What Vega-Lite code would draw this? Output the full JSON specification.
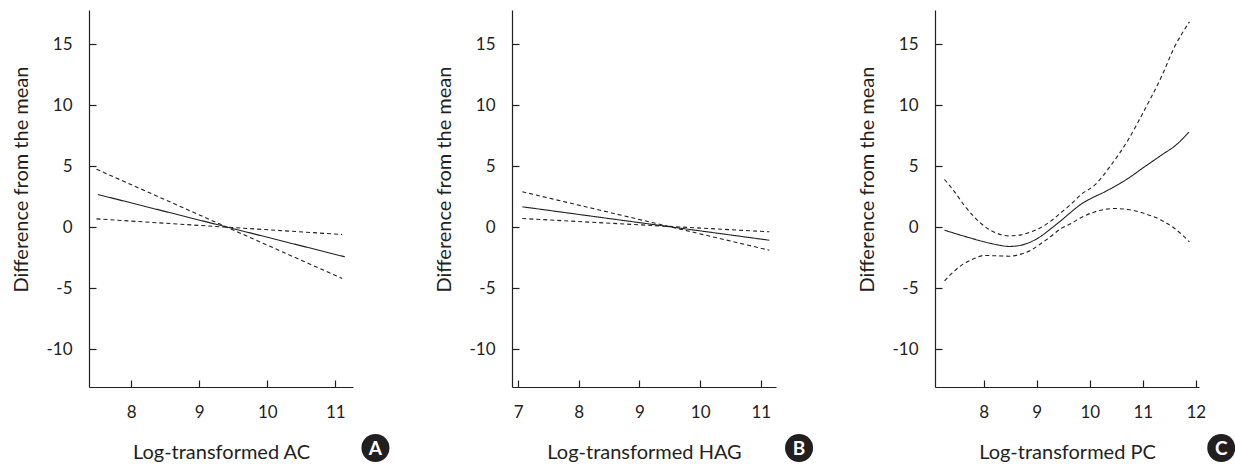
{
  "$schema": "https://vega.github.io/schema/vega-lite/v6.json",
  "padding": {"left": 11, "top": 10, "right": 0, "bottom": 0},
  "bounds": "flush",
  "spacing": 159,
  "config": {
    "view": {"stroke": null},
    "axis": {
      "grid": false,
      "domainColor": "#231f20",
      "domainWidth": 1.2,
      "tickColor": "#231f20",
      "tickWidth": 1.2,
      "tickSize": -7,
      "labelFont": "Lato",
      "labelFontSize": 17,
      "labelColor": "#231f20",
      "labelFlush": false,
      "labelOverlap": false,
      "labelExpr": "datum.value < 0 ? '-' + abs(datum.value) : '' + datum.value",
      "titleFont": "Lato",
      "titleFontSize": 20,
      "titleFontWeight": "normal",
      "titleColor": "#231f20"
    },
    "axisX": {"labelPadding": 24, "titlePadding": 22},
    "axisY": {"labelPadding": 24, "titlePadding": 14, "titleY": 169}
  },
  "datasets": {
    "curves": [
      {"panel": "A", "series": "fit", "x": 7.51, "y": 2.68},
      {"panel": "A", "series": "fit", "x": 11.14, "y": -2.43},
      {"panel": "A", "series": "upper", "x": 7.49, "y": 4.75},
      {"panel": "A", "series": "upper", "x": 11.1, "y": -4.2},
      {"panel": "A", "series": "lower", "x": 7.49, "y": 0.68},
      {"panel": "A", "series": "lower", "x": 11.1, "y": -0.6},
      {"panel": "B", "series": "fit", "x": 7.07, "y": 1.67},
      {"panel": "B", "series": "fit", "x": 11.14, "y": -1.07},
      {"panel": "B", "series": "upper", "x": 7.07, "y": 2.9},
      {"panel": "B", "series": "upper", "x": 11.14, "y": -1.89},
      {"panel": "B", "series": "lower", "x": 7.07, "y": 0.71},
      {"panel": "B", "series": "lower", "x": 11.14, "y": -0.38},
      {"panel": "C", "series": "fit", "x": 7.26, "y": -0.25},
      {"panel": "C", "series": "fit", "x": 7.63, "y": -0.74},
      {"panel": "C", "series": "fit", "x": 8.01, "y": -1.2},
      {"panel": "C", "series": "fit", "x": 8.26, "y": -1.45},
      {"panel": "C", "series": "fit", "x": 8.48, "y": -1.58},
      {"panel": "C", "series": "fit", "x": 8.7, "y": -1.48},
      {"panel": "C", "series": "fit", "x": 8.89, "y": -1.2},
      {"panel": "C", "series": "fit", "x": 9.08, "y": -0.74},
      {"panel": "C", "series": "fit", "x": 9.27, "y": -0.11},
      {"panel": "C", "series": "fit", "x": 9.46, "y": 0.55},
      {"panel": "C", "series": "fit", "x": 9.65, "y": 1.25},
      {"panel": "C", "series": "fit", "x": 9.84, "y": 1.9},
      {"panel": "C", "series": "fit", "x": 10.0, "y": 2.3},
      {"panel": "C", "series": "fit", "x": 10.28, "y": 2.89},
      {"panel": "C", "series": "fit", "x": 10.72, "y": 3.99},
      {"panel": "C", "series": "fit", "x": 11.03, "y": 4.94},
      {"panel": "C", "series": "fit", "x": 11.35, "y": 5.9},
      {"panel": "C", "series": "fit", "x": 11.66, "y": 6.86},
      {"panel": "C", "series": "fit", "x": 11.87, "y": 7.81},
      {"panel": "C", "series": "upper", "x": 7.26, "y": 3.91},
      {"panel": "C", "series": "upper", "x": 7.45, "y": 2.89},
      {"panel": "C", "series": "upper", "x": 7.63, "y": 1.8},
      {"panel": "C", "series": "upper", "x": 7.82, "y": 0.84},
      {"panel": "C", "series": "upper", "x": 8.01, "y": 0.08},
      {"panel": "C", "series": "upper", "x": 8.26, "y": -0.52},
      {"panel": "C", "series": "upper", "x": 8.48, "y": -0.71},
      {"panel": "C", "series": "upper", "x": 8.7, "y": -0.63},
      {"panel": "C", "series": "upper", "x": 8.89, "y": -0.38},
      {"panel": "C", "series": "upper", "x": 9.08, "y": -0.02},
      {"panel": "C", "series": "upper", "x": 9.27, "y": 0.52},
      {"panel": "C", "series": "upper", "x": 9.46, "y": 1.2},
      {"panel": "C", "series": "upper", "x": 9.65, "y": 1.9},
      {"panel": "C", "series": "upper", "x": 9.84, "y": 2.7},
      {"panel": "C", "series": "upper", "x": 10.09, "y": 3.44},
      {"panel": "C", "series": "upper", "x": 10.4, "y": 5.08},
      {"panel": "C", "series": "upper", "x": 10.72, "y": 7.13},
      {"panel": "C", "series": "upper", "x": 11.03, "y": 9.59},
      {"panel": "C", "series": "upper", "x": 11.35, "y": 12.32},
      {"panel": "C", "series": "upper", "x": 11.6, "y": 14.78},
      {"panel": "C", "series": "upper", "x": 11.88, "y": 16.83},
      {"panel": "C", "series": "lower", "x": 7.26, "y": -4.4},
      {"panel": "C", "series": "lower", "x": 7.45, "y": -3.58},
      {"panel": "C", "series": "lower", "x": 7.63, "y": -2.98},
      {"panel": "C", "series": "lower", "x": 7.82, "y": -2.57},
      {"panel": "C", "series": "lower", "x": 8.01, "y": -2.32},
      {"panel": "C", "series": "lower", "x": 8.26, "y": -2.35},
      {"panel": "C", "series": "lower", "x": 8.48, "y": -2.38},
      {"panel": "C", "series": "lower", "x": 8.7, "y": -2.21},
      {"panel": "C", "series": "lower", "x": 8.89, "y": -1.89},
      {"panel": "C", "series": "lower", "x": 9.08, "y": -1.34},
      {"panel": "C", "series": "lower", "x": 9.27, "y": -0.74},
      {"panel": "C", "series": "lower", "x": 9.46, "y": -0.1},
      {"panel": "C", "series": "lower", "x": 9.65, "y": 0.3},
      {"panel": "C", "series": "lower", "x": 9.84, "y": 0.8},
      {"panel": "C", "series": "lower", "x": 10.09, "y": 1.25},
      {"panel": "C", "series": "lower", "x": 10.46, "y": 1.53},
      {"panel": "C", "series": "lower", "x": 10.72, "y": 1.45},
      {"panel": "C", "series": "lower", "x": 11.03, "y": 1.12},
      {"panel": "C", "series": "lower", "x": 11.35, "y": 0.57},
      {"panel": "C", "series": "lower", "x": 11.6, "y": -0.11},
      {"panel": "C", "series": "lower", "x": 11.88, "y": -1.2}
    ],
    "badges": [
      {"panel": "A", "letter": "A", "x": 11.59, "y": -18.1},
      {"panel": "B", "letter": "B", "x": 11.63, "y": -18.1},
      {"panel": "C", "letter": "C", "x": 12.48, "y": -18.1}
    ]
  },
  "hconcat": [
    {
      "width": 264,
      "height": 377,
      "encoding": {
        "x": {"field": "x", "type": "quantitative", "scale": {"domain": [7.38, 11.26], "nice": false, "zero": false}, "axis": {"values": [8, 9, 10, 11], "title": "Log-transformed AC"}},
        "y": {"field": "y", "type": "quantitative", "scale": {"domain": [-13.1, 17.8], "nice": false, "zero": false}, "axis": {"values": [-10, -5, 0, 5, 10, 15], "title": "Difference from the mean"}}
      },
      "layer": [
        {
          "data": {"name": "curves"},
          "transform": [{"filter": "datum.panel === 'A'"}],
          "mark": {"type": "line", "color": "#231f20", "strokeWidth": 1.1, "interpolate": "monotone"},
          "encoding": {
            "detail": {"field": "series"},
            "strokeDash": {"field": "series", "scale": {"domain": ["fit", "upper", "lower"], "range": [[1, 0], [4, 3], [4, 3]]}, "legend": null}
          }
        },
        {
          "data": {"name": "badges"},
          "transform": [{"filter": "datum.panel === 'A'"}],
          "mark": {"type": "point", "filled": true, "size": 784, "color": "#231f20", "opacity": 1}
        },
        {
          "data": {"name": "badges"},
          "transform": [{"filter": "datum.panel === 'A'"}],
          "mark": {"type": "text", "color": "white", "font": "Lato", "fontWeight": "bold", "fontSize": 19, "align": "center", "baseline": "middle", "dy": 1},
          "encoding": {"text": {"field": "letter"}}
        }
      ]
    },
    {
      "width": 264,
      "height": 377,
      "encoding": {
        "x": {"field": "x", "type": "quantitative", "scale": {"domain": [6.9, 11.25], "nice": false, "zero": false}, "axis": {"values": [7, 8, 9, 10, 11], "title": "Log-transformed HAG"}},
        "y": {"field": "y", "type": "quantitative", "scale": {"domain": [-13.1, 17.8], "nice": false, "zero": false}, "axis": {"values": [-10, -5, 0, 5, 10, 15], "title": "Difference from the mean"}}
      },
      "layer": [
        {
          "data": {"name": "curves"},
          "transform": [{"filter": "datum.panel === 'B'"}],
          "mark": {"type": "line", "color": "#231f20", "strokeWidth": 1.1, "interpolate": "monotone"},
          "encoding": {
            "detail": {"field": "series"},
            "strokeDash": {"field": "series", "scale": {"domain": ["fit", "upper", "lower"], "range": [[1, 0], [4, 3], [4, 3]]}, "legend": null}
          }
        },
        {
          "data": {"name": "badges"},
          "transform": [{"filter": "datum.panel === 'B'"}],
          "mark": {"type": "point", "filled": true, "size": 784, "color": "#231f20", "opacity": 1}
        },
        {
          "data": {"name": "badges"},
          "transform": [{"filter": "datum.panel === 'B'"}],
          "mark": {"type": "text", "color": "white", "font": "Lato", "fontWeight": "bold", "fontSize": 19, "align": "center", "baseline": "middle", "dy": 1},
          "encoding": {"text": {"field": "letter"}}
        }
      ]
    },
    {
      "width": 264,
      "height": 377,
      "encoding": {
        "x": {"field": "x", "type": "quantitative", "scale": {"domain": [7.08, 12.06], "nice": false, "zero": false}, "axis": {"values": [8, 9, 10, 11, 12], "title": "Log-transformed PC"}},
        "y": {"field": "y", "type": "quantitative", "scale": {"domain": [-13.1, 17.8], "nice": false, "zero": false}, "axis": {"values": [-10, -5, 0, 5, 10, 15], "title": "Difference from the mean"}}
      },
      "layer": [
        {
          "data": {"name": "curves"},
          "transform": [{"filter": "datum.panel === 'C'"}],
          "mark": {"type": "line", "color": "#231f20", "strokeWidth": 1.1, "interpolate": "monotone"},
          "encoding": {
            "detail": {"field": "series"},
            "strokeDash": {"field": "series", "scale": {"domain": ["fit", "upper", "lower"], "range": [[1, 0], [4, 3], [4, 3]]}, "legend": null}
          }
        },
        {
          "data": {"name": "badges"},
          "transform": [{"filter": "datum.panel === 'C'"}],
          "mark": {"type": "point", "filled": true, "size": 784, "color": "#231f20", "opacity": 1}
        },
        {
          "data": {"name": "badges"},
          "transform": [{"filter": "datum.panel === 'C'"}],
          "mark": {"type": "text", "color": "white", "font": "Lato", "fontWeight": "bold", "fontSize": 19, "align": "center", "baseline": "middle", "dy": 1},
          "encoding": {"text": {"field": "letter"}}
        }
      ]
    }
  ]
}
